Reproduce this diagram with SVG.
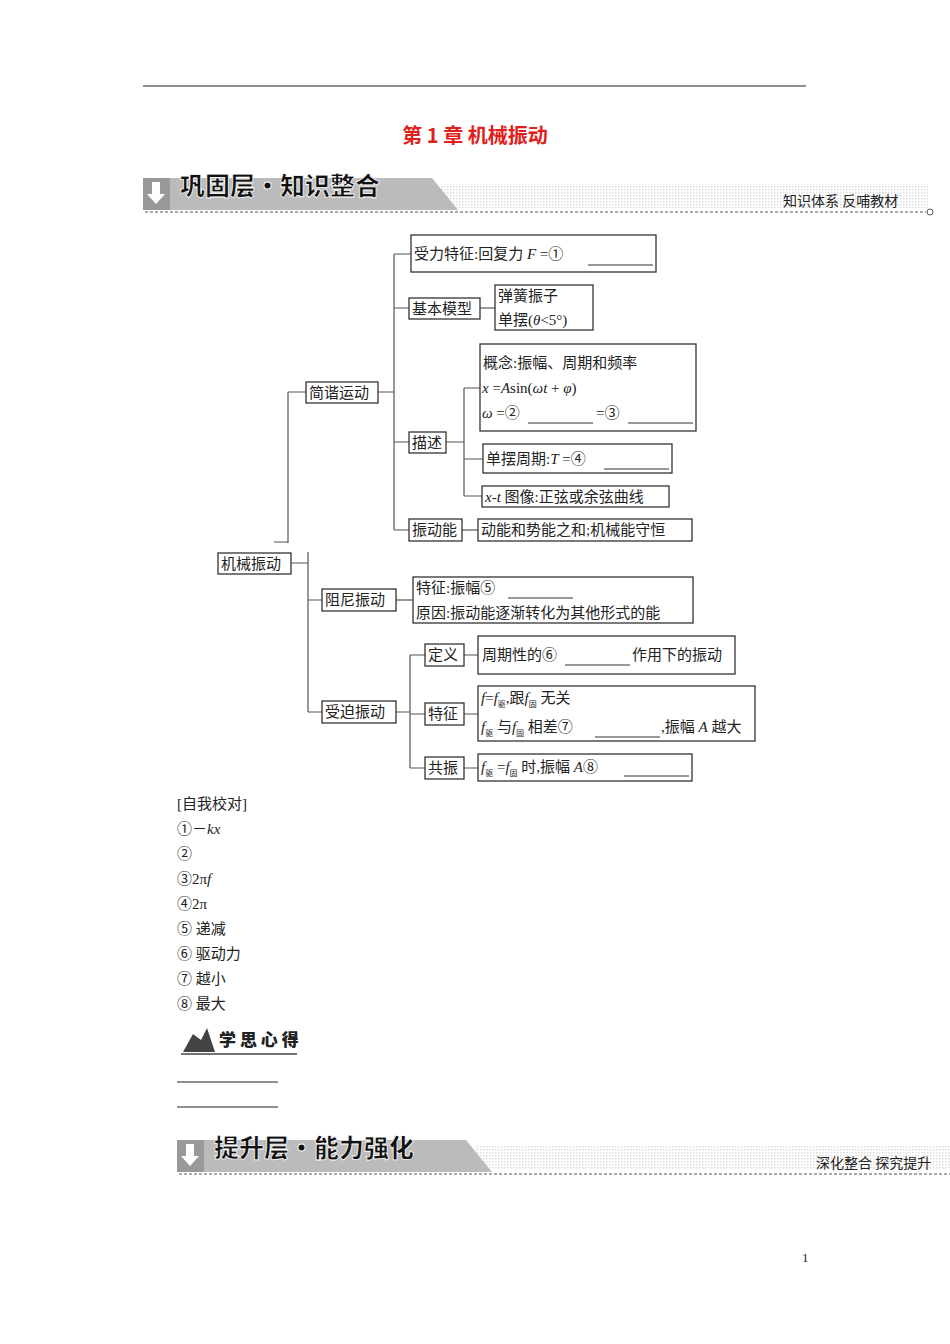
<svg xmlns="http://www.w3.org/2000/svg" width="950" height="1344" viewBox="0 0 950 1344">
<defs>
<pattern id="dots" width="3" height="3" patternUnits="userSpaceOnUse"><rect width="3" height="3" fill="#fff"/><rect width="1.5" height="1.5" fill="#ddd"/></pattern>
<style>
text{font-family:"Liberation Serif","Noto Sans CJK SC",serif;font-size:15px;fill:#222}
.b{fill:#fff;stroke:#333;stroke-width:1.3}
.c{fill:none;stroke:#555;stroke-width:1.2}
.ban{font-family:"Noto Sans CJK SC",sans-serif;font-weight:900;font-size:25px;fill:#111;stroke:#fff;stroke-width:0.8}
.sm{font-family:"Noto Sans CJK SC",sans-serif;font-size:14px;fill:#222}
.u{stroke:#333;stroke-width:1}
.i{font-style:italic}
.s{font-size:8px}
</style>
</defs>
<rect width="950" height="1344" fill="#fff"/>
<line x1="143" y1="86" x2="806" y2="86" stroke="#222" stroke-width="1.2"/>
<text x="475" y="143" text-anchor="middle" style="font-family:'Noto Sans CJK SC',sans-serif;font-size:20px;fill:#e0201a;font-weight:bold">第 1 章  机械振动</text>

<g id="banner1">
<rect x="440" y="184" width="488" height="24" fill="url(#dots)"/>
<polygon points="143,178 432,178 458,210 143,210" fill="#bbb"/>
<rect x="143" y="178" width="27" height="32" fill="#999"/>
<path d="M152,182 h8 v12 h5 l-9,10 l-9,-10 h5 z" fill="#fff"/>
<text x="180" y="195" class="ban">巩固层·知识整合</text>
<text x="783" y="206" class="sm">知识体系 反哺教材</text>
<line x1="145" y1="212" x2="926" y2="212" stroke="#555" stroke-dasharray="3,2"/>
<circle cx="930" cy="212" r="3" fill="#fff" stroke="#555"/>
</g>

<g id="connectors" class="c">
<path d="M394,254 V530 M394,254 H411 M394,308 H409 M378,392 H394 M394,442 H409 M394,530 H409"/>
<path d="M480,308 H495"/>
<path d="M446,442 H464 M464,388 V496 M464,388 H480 M464,459 H483 M464,496 H482"/>
<path d="M462,530 H478"/>
<path d="M288,392 H306 M288,392 V543 M274,542 H288"/>
<path d="M291,563 H308 M308,552 V712 M308,600 H322 M308,712 H322"/>
<path d="M396,600 H413"/>
<path d="M396,712 H410 M410,655 V768 M410,655 H425 M410,714 H425 M410,768 H425"/>
<path d="M464,655 H478 M464,714 H478 M464,768 H478"/>
</g>

<g id="n-shoulitezheng"><rect class="b" x="411" y="235" width="245" height="37"/><text x="414" y="259">受力特征:回复力 <tspan class="i">F</tspan> =①</text><line class="u" x1="588" y1="265" x2="653" y2="265"/></g>
<g id="n-jibenmoxing"><rect class="b" x="409" y="298" width="71" height="21"/><text x="412" y="314">基本模型</text></g>
<g id="n-moxing"><rect class="b" x="495" y="285" width="98" height="45"/><text x="498" y="301">弹簧振子</text><text x="498" y="325">单摆(<tspan class="i">θ</tspan>&lt;5°)</text></g>
<g id="n-jianxie"><rect class="b" x="306" y="382" width="72" height="21"/><text x="309" y="398">简谐运动</text></g>
<g id="n-miaoshu"><rect class="b" x="409" y="432" width="37" height="21"/><text x="412" y="448">描述</text></g>
<g id="n-gainian"><rect class="b" x="480" y="344" width="216" height="87"/><text x="483" y="368">概念:振幅、周期和频率</text><text x="482" y="393"><tspan class="i">x</tspan> =<tspan class="i">A</tspan>sin(<tspan class="i">ωt</tspan> + <tspan class="i">φ</tspan>)</text><text x="482" y="418"><tspan class="i">ω</tspan> =②</text><line class="u" x1="528" y1="423" x2="593" y2="423"/><text x="596" y="418">=③</text><line class="u" x1="628" y1="423" x2="693" y2="423"/></g>
<g id="n-danbai"><rect class="b" x="483" y="444" width="189" height="29"/><text x="486" y="464">单摆周期:<tspan class="i">T</tspan> =④</text><line class="u" x1="604" y1="469" x2="669" y2="469"/></g>
<g id="n-xt"><rect class="b" x="482" y="486" width="187" height="21"/><text x="485" y="502"><tspan class="i">x</tspan>-<tspan class="i">t</tspan> 图像:正弦或余弦曲线</text></g>
<g id="n-zhendongneng"><rect class="b" x="409" y="519" width="53" height="22"/><text x="412" y="535">振动能</text></g>
<g id="n-dongneng"><rect class="b" x="478" y="519" width="214" height="22"/><text x="481" y="535">动能和势能之和;机械能守恒</text></g>
<g id="n-jixie"><rect class="b" x="218" y="553" width="73" height="21"/><text x="221" y="569">机械振动</text></g>
<g id="n-zuni"><rect class="b" x="322" y="589" width="74" height="22"/><text x="325" y="605">阻尼振动</text></g>
<g id="n-zunicontent"><rect class="b" x="413" y="577" width="280" height="46"/><text x="416" y="593">特征:振幅⑤</text><line class="u" x1="508" y1="598" x2="573" y2="598"/><text x="416" y="618">原因:振动能逐渐转化为其他形式的能</text></g>
<g id="n-shoupo"><rect class="b" x="322" y="701" width="74" height="22"/><text x="325" y="717">受迫振动</text></g>
<g id="n-dingyi"><rect class="b" x="425" y="644" width="39" height="22"/><text x="428" y="660">定义</text></g>
<g id="n-dingyic"><rect class="b" x="478" y="636" width="257" height="38"/><text x="482" y="660">周期性的⑥</text><line class="u" x1="565" y1="665" x2="630" y2="665"/><text x="632" y="660">作用下的振动</text></g>
<g id="n-tezheng"><rect class="b" x="425" y="703" width="39" height="22"/><text x="428" y="719">特征</text></g>
<g id="n-tezhengc"><rect class="b" x="478" y="686" width="277" height="55"/><text x="481" y="703"><tspan class="i">f</tspan>=<tspan class="i">f</tspan><tspan class="s" dy="4">驱</tspan><tspan dy="-4">,跟</tspan><tspan class="i">f</tspan><tspan class="s" dy="4">固</tspan><tspan dy="-4"> 无关</tspan></text><text x="481" y="732"><tspan class="i">f</tspan><tspan class="s" dy="4">驱</tspan><tspan dy="-4"> 与</tspan><tspan class="i">f</tspan><tspan class="s" dy="4">固</tspan><tspan dy="-4"> 相差⑦</tspan></text><line class="u" x1="595" y1="737" x2="660" y2="737"/><text x="661" y="732">,振幅 <tspan class="i">A</tspan> 越大</text></g>
<g id="n-gongzhen"><rect class="b" x="425" y="757" width="39" height="22"/><text x="428" y="773">共振</text></g>
<g id="n-gongzhenc"><rect class="b" x="478" y="754" width="214" height="27"/><text x="481" y="772"><tspan class="i">f</tspan><tspan class="s" dy="4">驱</tspan><tspan dy="-4"> =</tspan><tspan class="i">f</tspan><tspan class="s" dy="4">固</tspan><tspan dy="-4"> 时,振幅 </tspan><tspan class="i">A</tspan>⑧</text><line class="u" x1="624" y1="776" x2="689" y2="776"/></g>

<g id="answers">
<text x="177" y="809">[自我校对]</text>
<text x="177" y="834">①－<tspan class="i">kx</tspan></text>
<text x="177" y="859">②</text>
<text x="177" y="884">③2π<tspan class="i">f</tspan></text>
<text x="177" y="909">④2π</text>
<text x="177" y="934">⑤ 递减</text>
<text x="177" y="959">⑥ 驱动力</text>
<text x="177" y="984">⑦ 越小</text>
<text x="177" y="1009">⑧ 最大</text>
</g>
<g id="xuesi">
<path d="M183,1052 l10,-18 l8,6 l6,-12 l8,24 z" fill="#444"/>
<line x1="181" y1="1054" x2="297" y2="1054" stroke="#444" stroke-width="1.5"/>
<text x="219" y="1046" style="font-family:'Noto Sans CJK SC',sans-serif;font-weight:900;font-size:17px">学 思 心 得</text>
<line x1="177" y1="1082" x2="278" y2="1082" stroke="#222"/>
<line x1="177" y1="1107" x2="278" y2="1107" stroke="#222"/>
</g>
<g id="banner2">
<rect x="475" y="1146" width="475" height="24" fill="url(#dots)"/>
<polygon points="177,1140 466,1140 492,1172 177,1172" fill="#bbb"/>
<rect x="177" y="1140" width="27" height="32" fill="#999"/>
<path d="M186,1144 h8 v12 h5 l-9,10 l-9,-10 h5 z" fill="#fff"/>
<text x="214" y="1157" class="ban">提升层·能力强化</text>
<text x="816" y="1168" class="sm">深化整合 探究提升</text>
<line x1="179" y1="1174" x2="950" y2="1174" stroke="#555" stroke-dasharray="3,2"/>
</g>
<text x="802" y="1262" style="font-size:13px">1</text>
</svg>
